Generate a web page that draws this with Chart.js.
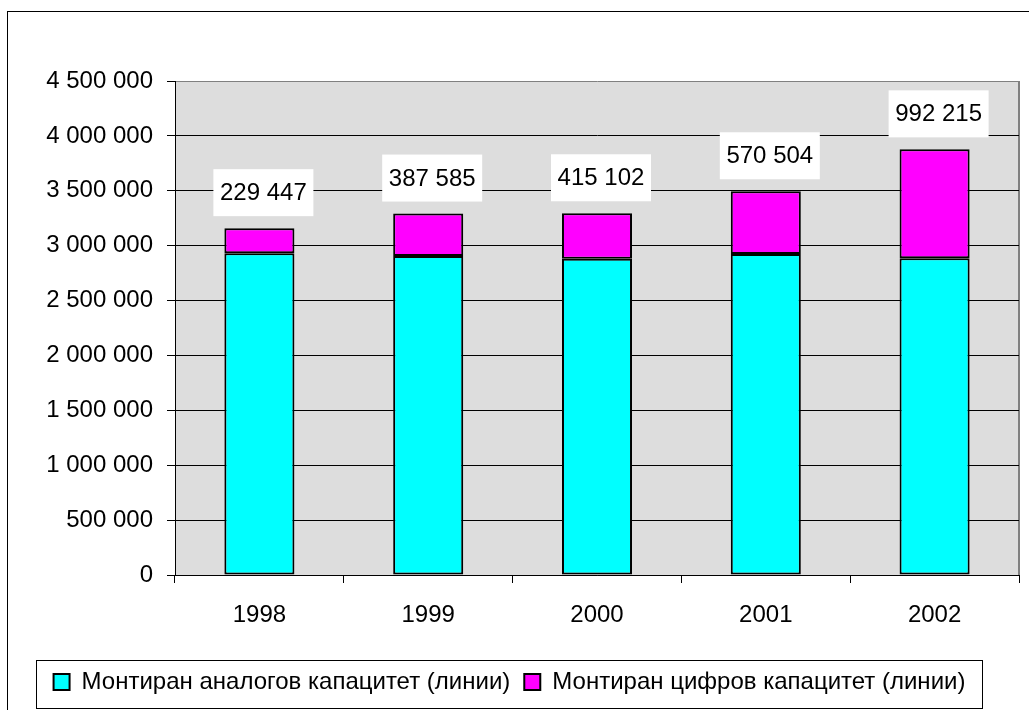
<!DOCTYPE html>
<html>
<head>
<meta charset="utf-8">
<script src="https://cdn.jsdelivr.net/npm/chart.js@4/dist/chart.umd.min.js"></script>
<style>
  body { margin: 0; background: #fff; }
  canvas { display: block; }
</style>
</head>
<body>
<canvas id="chart" width="1029" height="710"></canvas>
<script>
var years = ["1998", "1999", "2000", "2001", "2002"];
var analog = [2930000, 2905000, 2880000, 2925000, 2885000];
var digital = [229447, 387585, 415102, 570504, 992215];
var seriesNames = ["Монтиран аналогов капацитет (линии)", "Монтиран цифров капацитет (линии)"];
var yMax = 4500000;
var yStep = 500000;

var FONT = '"Liberation Sans", Arial, sans-serif';

function spaced(v) {
  return String(v).replace(/\B(?=(\d{3})+(?!\d))/g, ' ');
}

// gray plot area, outer frame, legend frame and value boxes
var decor = {
  id: 'decor',
  beforeDraw: function(chart) {
    var ctx = chart.ctx, a = chart.chartArea;
    ctx.save();
    ctx.fillStyle = '#fff';
    ctx.fillRect(0, 0, chart.width, chart.height);
    ctx.strokeStyle = '#000';
    ctx.lineWidth = 1;
    ctx.strokeRect(7.5, 11.5, chart.width + 20, chart.height + 20);
    ctx.fillStyle = '#dddddd';
    ctx.fillRect(a.left, a.top, a.right - a.left, a.bottom - a.top);
    ctx.strokeStyle = '#808080';
    ctx.lineWidth = 2;
    ctx.beginPath();
    ctx.moveTo(a.right, a.top);
    ctx.lineTo(a.right, a.bottom);
    ctx.stroke();
    ctx.restore();
  },
  afterDraw: function(chart) {
    var ctx = chart.ctx;
    ctx.save();
    var boxes = chart.legend.legendHitBoxes;
    if (boxes && boxes.length) {
      var l = Infinity, r = -Infinity, t = Infinity;
      boxes.forEach(function(h) {
        l = Math.min(l, h.left); r = Math.max(r, h.left + h.width);
        t = Math.min(t, h.top);
      });
      ctx.strokeStyle = '#000';
      ctx.lineWidth = 1;
      ctx.strokeRect(Math.round(l - 18) + 0.5, Math.round(t - 10) + 0.5,
                     Math.round(r - l + 34), 48);
    }
    var meta = chart.getDatasetMeta(1);
    ctx.font = '24px ' + FONT;
    ctx.textAlign = 'center';
    ctx.textBaseline = 'middle';
    meta.data.forEach(function(bar, i) {
      var w = 100, h = 47;
      var x = bar.x + 4 - w / 2, y = bar.y - 12 - h;
      ctx.fillStyle = '#fff';
      ctx.fillRect(x, y, w, h);
      ctx.fillStyle = '#000';
      ctx.fillText(spaced(digital[i]), bar.x + 4, y + h / 2 + 1);
    });
    ctx.restore();
  }
};

new Chart(document.getElementById('chart').getContext('2d'), {
  type: 'bar',
  data: {
    labels: years,
    datasets: [
      {
        label: seriesNames[0],
        data: analog,
        backgroundColor: '#00ffff',
        borderColor: '#000',
        borderWidth: 2,
        borderSkipped: false
      },
      {
        label: seriesNames[1],
        data: digital,
        backgroundColor: '#ff00ff',
        borderColor: '#000',
        borderWidth: 2,
        borderSkipped: false
      }
    ]
  },
  options: {
    responsive: false,
    animation: false,
    layout: { padding: { top: 81, right: 10, left: 0, bottom: 6 } },
    datasets: { bar: { barPercentage: 0.415, categoryPercentage: 1 } },
    plugins: {
      legend: {
        position: 'bottom',
        labels: {
          color: '#000',
          font: { family: FONT, size: 24 },
          boxWidth: 16,
          boxHeight: 16,
          padding: 14
        }
      },
      tooltip: { enabled: false }
    },
    scales: {
      x: {
        stacked: true,
        afterFit: function(scale) { scale.height = 81; },
        grid: { offset: true, drawOnChartArea: false, drawTicks: true, tickLength: 8, color: '#000' },
        border: { color: '#000', width: 1 },
        ticks: { color: '#000', font: { family: FONT, size: 24 }, padding: 18 }
      },
      y: {
        stacked: true,
        min: 0,
        max: yMax,
        afterFit: function(scale) { scale.width = 175; },
        grid: {
          color: function(c) { return c.tick && c.tick.value === yMax ? '#808080' : '#000'; },
          tickColor: '#000',
          tickLength: 8
        },
        border: { color: '#000', width: 1 },
        ticks: {
          stepSize: yStep,
          color: '#000',
          font: { family: FONT, size: 24 },
          padding: 14,
          callback: function(v) { return spaced(v); }
        }
      }
    }
  },
  plugins: [decor]
});
</script>
</body>
</html>
